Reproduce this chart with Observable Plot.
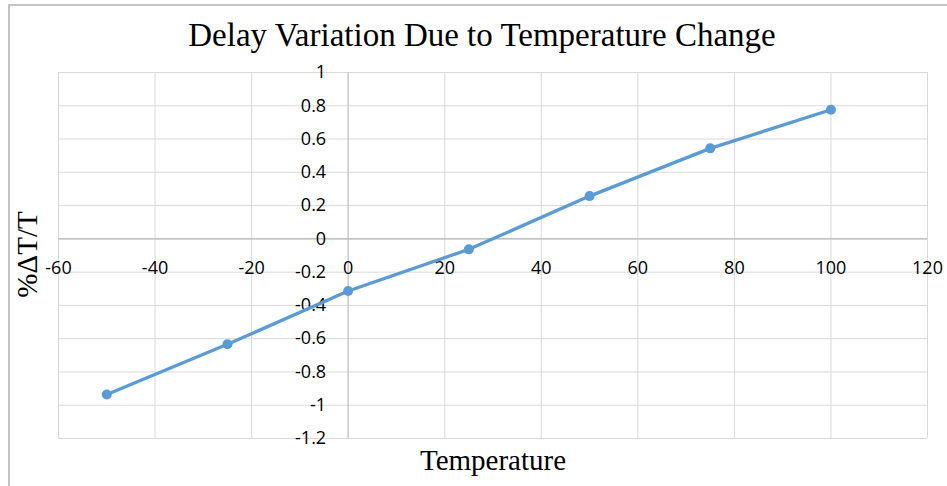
<!DOCTYPE html>
<html>
<head>
<meta charset="utf-8">
<script src="https://cdn.jsdelivr.net/npm/d3@7"></script>
<script src="https://cdn.jsdelivr.net/npm/@observablehq/plot@0.6"></script>
<style>
  html, body { margin: 0; padding: 0; background: #fff; }
  #wrap { position: relative; width: 947px; height: 486px; }
  #border { position: absolute; left: 8px; top: 4px; right: 0; bottom: 0;
            border-left: 2px solid #c4c4c4; border-top: 2px solid #c4c4c4; pointer-events: none; }
</style>
</head>
<body>
<div id="wrap"><div id="border"></div></div>
<script>
const temperature = [-50, -25, 0, 25, 50, 75, 100];
const delayVariation = [-0.936, -0.634, -0.313, -0.063, 0.257, 0.544, 0.776];

const xTicks = [-60, -40, -20, 0, 20, 40, 60, 80, 100, 120];
const xTickLabels = ["-60", "-40", "-20", "0", "20", "40", "60", "80", "100", "120"];
const yTicks = [1, 0.8, 0.6, 0.4, 0.2, 0, -0.2, -0.4, -0.6, -0.8, -1, -1.2];
const yTickLabels = ["1", "0.8", "0.6", "0.4", "0.2", "0", "-0.2", "-0.4", "-0.6", "-0.8", "-1", "-1.2"];

const titleText = "Delay Variation Due to Temperature Change";
const xLabel = "Temperature";
const yLabel = "%\u0394T/T";

const data = temperature.map((t, i) => ({t, v: delayVariation[i]}));
const xt = xTicks.map((x, i) => ({x, label: xTickLabels[i]}));
const yt = yTicks.map((y, i) => ({y, label: yTickLabels[i]}));

const tickFont = "'Open Sans', sans-serif";
const serif = "'Liberation Serif', 'Times New Roman', serif";

const chart = Plot.plot({
  width: 947,
  height: 486,
  marginLeft: 58,
  marginRight: 20,
  marginTop: 72,
  marginBottom: 48,
  x: {domain: [-60, 120], axis: null},
  y: {domain: [-1.2, 1], axis: null},
  style: {background: "transparent"},
  marks: [
    Plot.ruleX(xTicks, {stroke: "#d9d9d9", strokeWidth: 1}),
    Plot.ruleY(yTicks, {stroke: "#d9d9d9", strokeWidth: 1}),
    Plot.ruleX([0], {stroke: "#bfbfbf", strokeWidth: 1}),
    Plot.ruleY([0], {stroke: "#bfbfbf", strokeWidth: 1.5}),
    Plot.text(xt, {x: "x", y: () => 0, text: "label", dy: 29.5, fontSize: 18, fontFamily: tickFont, fill: "#000", textAnchor: "middle"}),
    Plot.text(yt, {x: () => 0, y: "y", text: "label", dx: -22, fontSize: 18, fontFamily: tickFont, fill: "#000", textAnchor: "end"}),
    Plot.line(data, {x: "t", y: "v", stroke: "#5b9bd5", strokeWidth: 3.3}),
    Plot.dot(data, {x: "t", y: "v", r: 5, fill: "#5b9bd5", stroke: "none"}),
    Plot.text([titleText], {frameAnchor: "top", dy: -37, dx: -11, fontSize: 33, fontFamily: serif, fill: "#000", textAnchor: "middle", lineAnchor: "middle"}),
    Plot.text([xLabel], {frameAnchor: "bottom", dy: 22, dx: 0, fontSize: 29, fontFamily: serif, fill: "#000", textAnchor: "middle", lineAnchor: "middle"}),
    Plot.text([yLabel], {frameAnchor: "left", dx: -31, dy: -1, rotate: -90, fontSize: 29, fontFamily: serif, fill: "#000", textAnchor: "middle", lineAnchor: "middle"})
  ]
});
document.getElementById("wrap").prepend(chart);
</script>
</body>
</html>
